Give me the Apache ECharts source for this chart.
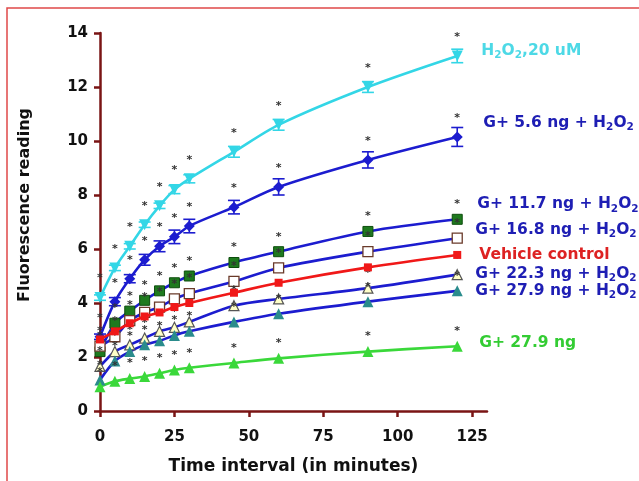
<!DOCTYPE html>
<html>
<head>
<meta charset="utf-8">
<script src="https://cdn.jsdelivr.net/npm/echarts@6/dist/echarts.min.js"></script>
<style>
  html, body { margin: 0; padding: 0; background: #fff; }
  #chart { width: 639px; height: 481px; }
</style>
</head>
<body>
<div id="chart"></div>
<script>
// time points (minutes)
const times = [0, 5, 10, 15, 20, 25, 30, 45, 60, 90, 120];

// fluorescence readings, one list per group
const h2o2     = [4.2, 5.3, 6.1, 6.9, 7.6, 8.2, 8.6, 9.6, 10.6, 12.0, 13.15];
const g56      = [2.75, 4.05, 4.9, 5.6, 6.1, 6.45, 6.85, 7.55, 8.3, 9.3, 10.15];
const g117     = [2.2, 3.25, 3.7, 4.1, 4.45, 4.75, 5.0, 5.5, 5.9, 6.65, 7.1];
const g168     = [2.4, 2.75, 3.35, 3.65, 3.85, 4.15, 4.35, 4.8, 5.3, 5.9, 6.4];
const vehicle  = [2.65, 2.95, 3.25, 3.5, 3.65, 3.85, 4.0, 4.38, 4.75, 5.32, 5.78];
const g223     = [1.65, 2.2, 2.45, 2.7, 2.95, 3.1, 3.3, 3.9, 4.15, 4.55, 5.05];
const g279h    = [1.15, 1.85, 2.2, 2.45, 2.6, 2.8, 2.95, 3.3, 3.6, 4.05, 4.45];
const g279     = [0.9, 1.1, 1.2, 1.28, 1.4, 1.52, 1.6, 1.78, 1.95, 2.2, 2.4];

// SEM (only visible on the two top curves)
const h2o2Err = [0.1, 0.1, 0.1, 0.1, 0.1, 0.15, 0.15, 0.2, 0.2, 0.2, 0.25];
const g56Err  = [0.1, 0.15, 0.15, 0.2, 0.2, 0.25, 0.25, 0.25, 0.3, 0.3, 0.35];

const xTicks = [0, 25, 50, 75, 100, 125];

const pairs = arr => times.map((t, i) => [t, arr[i]]);
const errRows = (arr, err) => times.map((t, i) => [t, arr[i] - err[i], arr[i] + err[i]]);

const AX = '#7a1414';
const FONT = '"DejaVu Sans", Verdana, sans-serif';

const subRich = c => ({
    t: { color: c, fontSize: 15.5, fontWeight: 'bold', fontFamily: FONT },
    s: { color: c, fontSize: 10.5, fontWeight: 'bold', fontFamily: FONT, padding: [9, 0, 0, 0] }
});
const h2o2Txt = '{t|H}{s|2}{t|O}{s|2}';

const star = (dist) => ({ show: true, formatter: '*', position: 'top', distance: dist, fontSize: 11, fontWeight: 'bold', color: '#333', fontFamily: FONT });

function lineSeries(name, data, o) {
    return {
        name: name, type: 'line', data: pairs(data), smooth: 0.3, z: o.z || 3,
        lineStyle: { color: o.line, width: 2.6 },
        itemStyle: { color: o.fill, borderColor: o.border || o.fill, borderWidth: o.bw || 0 },
        symbol: o.symbol, symbolSize: o.size || 9, symbolRotate: o.rot || 0,
        label: o.star === false ? { show: false } : star(o.dist || 4),
        endLabel: { show: true, formatter: o.text, offset: o.off, rich: subRich(o.tc), color: o.tc, fontSize: 15.5, fontWeight: 'bold', fontFamily: FONT },
        emphasis: { disabled: true }, animation: false
    };
}

function errSeries(rows, color) {
    return {
        type: 'custom', data: rows, z: 2, animation: false,
        renderItem: (params, api) => {
            const lo = api.coord([api.value(0), api.value(1)]);
            const hi = api.coord([api.value(0), api.value(2)]);
            const w = 6;
            const st = { stroke: color, lineWidth: 1.6 };
            return { type: 'group', children: [
                { type: 'line', shape: { x1: lo[0], y1: lo[1], x2: hi[0], y2: hi[1] }, style: st },
                { type: 'line', shape: { x1: lo[0] - w, y1: lo[1], x2: lo[0] + w, y2: lo[1] }, style: st },
                { type: 'line', shape: { x1: hi[0] - w, y1: hi[1], x2: hi[0] + w, y2: hi[1] }, style: st }
            ]};
        }
    };
}

const chart = echarts.init(document.getElementById('chart'));
chart.setOption({
    backgroundColor: '#fff',
    animation: false,
    graphic: [{ type: 'rect', shape: { x: 7, y: 8, width: 700, height: 600 }, style: { fill: 'none', stroke: '#e04848', lineWidth: 1.5 }, silent: true }],
    grid: { left: 100, right: 152, top: 33, bottom: 70 },
    xAxis: {
        type: 'value', min: 0, max: 130,
        name: 'Time interval (in minutes)', nameLocation: 'middle', nameGap: 47,
        nameTextStyle: { fontSize: 17, fontWeight: 'bold', color: '#111', fontFamily: FONT },
        axisLine: { lineStyle: { color: AX, width: 2.5 } },
        axisTick: { customValues: xTicks, length: 6, lineStyle: { color: AX, width: 2.5 } },
        axisLabel: { customValues: xTicks, margin: 19, fontSize: 15, fontWeight: 'bold', color: '#111', fontFamily: FONT },
        splitLine: { show: false }
    },
    yAxis: {
        type: 'value', min: 0, max: 14, interval: 2,
        name: 'Fluorescence reading', nameLocation: 'middle', nameGap: 67,
        nameTextStyle: { fontSize: 16, fontWeight: 'bold', color: '#111', fontFamily: FONT, padding: [0, 0, 0, 34] },
        axisLine: { lineStyle: { color: AX, width: 2.5 } },
        axisTick: { length: 6, lineStyle: { color: AX, width: 2.5 } },
        axisLabel: { margin: 12, fontSize: 15, fontWeight: 'bold', color: '#111', fontFamily: FONT },
        splitLine: { show: false }
    },
    series: [
        errSeries(errRows(h2o2, h2o2Err), '#33d6e6'),
        errSeries(errRows(g56, g56Err), '#1c1ccf'),
        lineSeries('H2O2 20 uM', h2o2, { line: '#33d6e6', fill: '#33d6e6', symbol: 'triangle', rot: 180, size: 11, dist: 8,
            text: h2o2Txt + '{t|,20 uM}', tc: '#4dd9e6', off: [16, -5] }),
        lineSeries('G+ 5.6 ng + H2O2', g56, { line: '#1c1ccf', fill: '#1c1ccf', symbol: 'diamond', size: 11, dist: 8,
            text: '{t|G+ 5.6 ng + }' + h2o2Txt, tc: '#1e1eb4', off: [18, -14] }),
        lineSeries('G+ 11.7 ng + H2O2', g117, { line: '#1c1ccf', fill: '#1e7a1e', border: '#0d4d0d', bw: 1, symbol: 'rect', size: 10,
            text: '{t|G+ 11.7 ng + }' + h2o2Txt, tc: '#1e1eb4', off: [12, -15] }),
        lineSeries('G+ 16.8 ng + H2O2', g168, { line: '#1c1ccf', fill: '#ffffff', border: '#6a3a2a', bw: 1.3, symbol: 'rect', size: 10,
            text: '{t|G+ 16.8 ng + }' + h2o2Txt, tc: '#1e1eb4', off: [10, -8] }),
        lineSeries('Vehicle control', vehicle, { line: '#f01818', fill: '#f01818', symbol: 'rect', size: 8, star: false, z: 4,
            text: '{t|Vehicle control}', tc: '#dd2222', off: [14, 0] }),
        lineSeries('G+ 22.3 ng + H2O2', g223, { line: '#1c1ccf', fill: '#ffffc8', border: '#555', bw: 1.2, symbol: 'triangle', size: 10,
            text: '{t|G+ 22.3 ng + }' + h2o2Txt, tc: '#1e1eb4', off: [10, -1] }),
        lineSeries('G+ 27.9 ng + H2O2', g279h, { line: '#1c1ccf', fill: '#2a8c8c', symbol: 'triangle', size: 11,
            text: '{t|G+ 27.9 ng + }' + h2o2Txt, tc: '#1e1eb4', off: [10, 0] }),
        lineSeries('G+ 27.9 ng', g279, { line: '#3ad83a', fill: '#3ad83a', symbol: 'triangle', size: 11,
            text: '{t|G+ 27.9 ng}', tc: '#33cc33', off: [14, -3] })
    ]
});
</script>
</body>
</html>
